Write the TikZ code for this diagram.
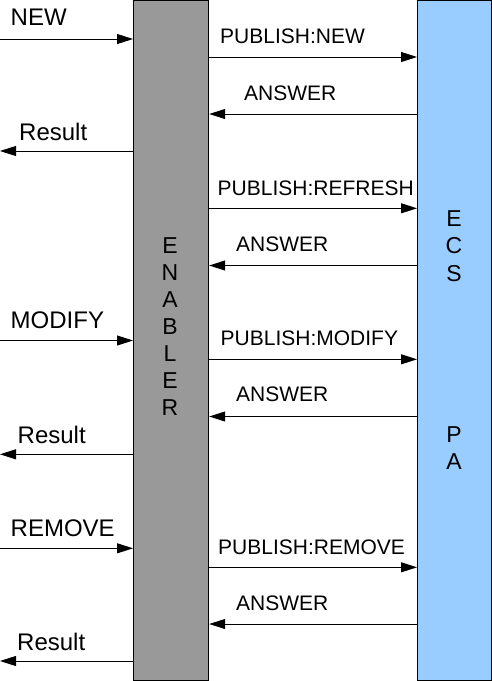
\documentclass[tikz,border=0pt]{standalone}
\usepackage{fontspec}
\setmainfont{Liberation Sans}
\usetikzlibrary{arrows.meta}

\definecolor{enablergray}{HTML}{999999}
\definecolor{ecsblue}{HTML}{99CCFF}

\tikzset{
    block/.style={draw=black, line width=1.2pt, anchor=north west, inner sep=0pt},
    msg/.style={line width=0.9pt, -{Triangle[length=16pt,width=10pt]}},
    lbl/.style={anchor=base west, inner sep=0pt, font=\fontsize{21}{26}\selectfont},
    sidelbl/.style={lbl, font=\fontsize{24}{28}\selectfont},
    letters/.style={align=center, inner sep=0pt, font=\fontsize{23}{26.9}\selectfont}
}

\begin{document}
\begin{tikzpicture}[x=1pt, y=-1pt]
        \useasboundingbox (0, 0) rectangle (492, 681);

        % the two blocks
        \node[block, fill=enablergray, minimum width=75pt, minimum height=680pt] (enabler) at (133, 0) {};
        \node[block, fill=ecsblue, minimum width=74pt, minimum height=680pt] (ecs) at (417, 0) {};

        \node[letters] (enablertxt) at (170, 326.5) {E\\N\\A\\B\\L\\E\\R};
        \node[letters, font=\fontsize{23}{27.5}\selectfont] (ecstxt) at (454, 246) {E\\C\\S};
        \node[letters, font=\fontsize{23}{27.5}\selectfont] (patxt) at (454, 448.3) {P\\A};

        % free ends on the left
        \coordinate (new) at (0, 39);
        \coordinate (res1) at (0, 151);
        \coordinate (modify) at (0, 340.5);
        \coordinate (res2) at (0, 454.3);
        \coordinate (remove) at (0, 548.3);
        \coordinate (res3) at (0, 661);

        % client side
        \draw[msg] (new) -- (new -| enabler.west);
        \node[sidelbl] (lnew) at (10.5, 25.7) {NEW};
        \draw[msg] (res1 -| enabler.west) -- (res1);
        \node[sidelbl] (lres1) at (19, 140.7) {Result};
        \draw[msg] (modify) -- (modify -| enabler.west);
        \node[sidelbl] (lmodify) at (10.5, 328.3) {MODIFY};
        \draw[msg] (res2 -| enabler.west) -- (res2);
        \node[sidelbl] (lres2) at (17.5, 443.3) {Result};
        \draw[msg] (remove) -- (remove -| enabler.west);
        \node[sidelbl] (lremove) at (10.5, 536) {REMOVE};
        \draw[msg] (res3 -| enabler.west) -- (res3);
        \node[sidelbl] (lres3) at (17, 650.7) {Result};

        % enabler to ECS PA
        \coordinate (pubnew) at (0, 57);
        \coordinate (ans1) at (0, 114);
        \coordinate (pubref) at (0, 208.3);
        \coordinate (ans2) at (0, 265.5);
        \coordinate (pubmod) at (0, 359.3);
        \coordinate (ans3) at (0, 416.5);
        \coordinate (pubrem) at (0, 567.3);
        \coordinate (ans4) at (0, 624);

        \draw[msg] (pubnew -| enabler.east) -- (pubnew -| ecs.west);
        \node[lbl] (lpubnew) at (220, 43.3) {PUBLISH:NEW};
        \draw[msg] (ans1 -| ecs.west) -- (ans1 -| enabler.east);
        \node[lbl] (lans1) at (244, 100.7) {ANSWER};

        \draw[msg] (pubref -| enabler.east) -- (pubref -| ecs.west);
        \node[lbl] (lpubref) at (217.5, 195) {PUBLISH:REFRESH};
        \draw[msg] (ans2 -| ecs.west) -- (ans2 -| enabler.east);
        \node[lbl] (lans2) at (236, 251) {ANSWER};

        \draw[msg] (pubmod -| enabler.east) -- (pubmod -| ecs.west);
        \node[lbl] (lpubmod) at (220.5, 345) {PUBLISH:MODIFY};
        \draw[msg] (ans3 -| ecs.west) -- (ans3 -| enabler.east);
        \node[lbl] (lans3) at (236, 401.5) {ANSWER};

        \draw[msg] (pubrem -| enabler.east) -- (pubrem -| ecs.west);
        \node[lbl] (lpubrem) at (218, 554) {PUBLISH:REMOVE};
        \draw[msg] (ans4 -| ecs.west) -- (ans4 -| enabler.east);
        \node[lbl] (lans4) at (236, 610) {ANSWER};
    \end{tikzpicture}
\end{document}
